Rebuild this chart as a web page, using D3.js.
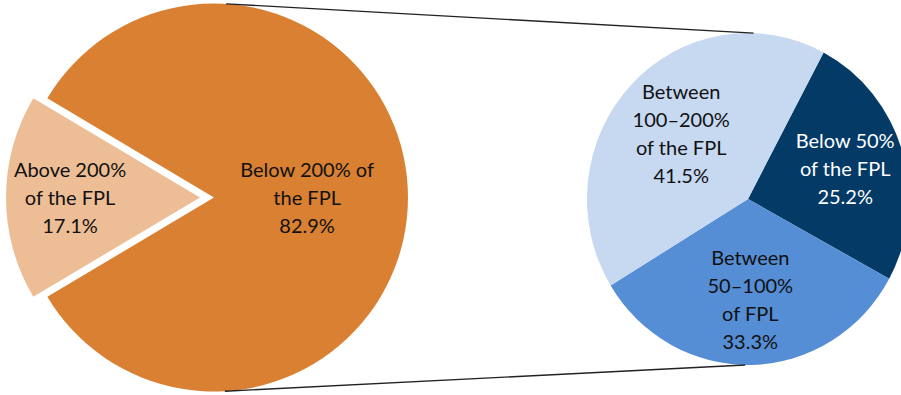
<!DOCTYPE html>
<html>
<head>
<meta charset="utf-8">
<script src="https://cdn.jsdelivr.net/npm/d3@7"></script>
<style>
  html, body { margin: 0; padding: 0; background: #fff; }
  svg { display: block; }
  text { font-family: Lato, "Open Sans", "DejaVu Sans", sans-serif; }
</style>
</head>
<body>
<svg id="chart" width="901" height="395"></svg>
<script>
// ---- data ----
const primaryCategories = ["Below 200% of the FPL", "Above 200% of the FPL"];
const primaryLabelLines = [["Below 200% of", "the FPL"], ["Above 200%", "of the FPL"]];
const primaryValues = [82.9, 17.1];

const secondaryCategories = ["Below 50% of the FPL", "Between 50–100% of FPL", "Between 100–200% of the FPL"];
const secondaryLabelLines = [["Below 50%", "of the FPL"], ["Between", "50–100%", "of FPL"], ["Between", "100–200%", "of the FPL"]];
const secondaryValues = [25.2, 33.3, 41.5];

// ---- styles / layout ----
const primaryColors = ["#D98032", "#EDBD95"];
const secondaryColors = ["#043A66", "#558ED5", "#C6D9F1"];
const secondaryTextColors = ["#ffffff", "#111111", "#111111"];
const primaryTextColors = ["#111111", "#111111"];

const svg = d3.select("#chart");
const fontSize = 20, lineH = 28;

// primary pie
const P = { cx: 214, cy: 197.5, r: 194, explode: 14 };
const primaryPie = d3.pie().sort(null).value(d => d)
  .startAngle(300.78 * Math.PI / 180)
  .endAngle(300.78 * Math.PI / 180 + 2 * Math.PI);
const pArcs = primaryPie(primaryValues);
const pArc = d3.arc().innerRadius(0).outerRadius(P.r);
const pExplode = [0, P.explode];
const pLabelFrac = [0.48, 0.67];

const gP = svg.append("g").attr("transform", `translate(${P.cx},${P.cy})`);
pArcs.forEach((a, i) => {
  const mid = (a.startAngle + a.endAngle) / 2;
  const ox = Math.sin(mid) * pExplode[i], oy = -Math.cos(mid) * pExplode[i];
  const g = gP.append("g").attr("transform", `translate(${ox},${oy})`);
  g.append("path").attr("d", pArc(a)).attr("fill", primaryColors[i]);
  const lr = P.r * pLabelFrac[i];
  const lx = Math.sin(mid) * lr, ly = -Math.cos(mid) * lr;
  const lines = primaryLabelLines[i].concat([d3.format(".1f")(primaryValues[i]) + "%"]);
  const t = g.append("text").attr("text-anchor", "middle").attr("font-size", fontSize)
    .attr("fill", primaryTextColors[i]);
  lines.forEach((l, k) => {
    t.append("tspan").attr("x", lx)
      .attr("y", ly + (k - (lines.length - 1) / 2) * lineH)
      .attr("dy", "0.35em").text(l);
  });
});

// secondary pie (slightly elliptical as in the reference)
const S = { cx: 748, cy: 199, rx: 161, ry: 166 };
const R = S.ry;
const secondaryPie = d3.pie().sort(null).value(d => d)
  .startAngle(28 * Math.PI / 180)
  .endAngle(28 * Math.PI / 180 + 2 * Math.PI);
const sArcs = secondaryPie(secondaryValues);
const sArc = d3.arc().innerRadius(0).outerRadius(R);
const sLabelFrac = [0.63, 0.61, 0.57];
const sx = S.rx / S.ry;

const gS = svg.append("g").attr("transform", `translate(${S.cx},${S.cy})`);
const gSS = gS.append("g").attr("transform", `scale(${sx},1)`);
sArcs.forEach((a, i) => {
  gSS.append("path").attr("d", sArc(a)).attr("fill", secondaryColors[i]);
});
sArcs.forEach((a, i) => {
  const mid = (a.startAngle + a.endAngle) / 2;
  const lr = R * sLabelFrac[i];
  const lx = Math.sin(mid) * lr * sx, ly = -Math.cos(mid) * lr;
  const lines = secondaryLabelLines[i].concat([d3.format(".1f")(secondaryValues[i]) + "%"]);
  const t = gS.append("text").attr("text-anchor", "middle").attr("font-size", fontSize)
    .attr("fill", secondaryTextColors[i]);
  lines.forEach((l, k) => {
    t.append("tspan").attr("x", lx)
      .attr("y", ly + (k - (lines.length - 1) / 2) * lineH)
      .attr("dy", "0.35em").text(l);
  });
});

// connector lines between pies
function ptP(deg) { const a = deg * Math.PI / 180; return [P.cx + Math.sin(a) * P.r, P.cy - Math.cos(a) * P.r]; }
function ptS(deg) { const a = deg * Math.PI / 180; return [S.cx + Math.sin(a) * S.rx, S.cy - Math.cos(a) * S.ry]; }
const connectors = [[ptP(3.6), ptS(2)], [ptP(176.8), ptS(181)]];
connectors.forEach(([a, b]) => {
  svg.append("line").attr("x1", a[0]).attr("y1", a[1]).attr("x2", b[0]).attr("y2", b[1])
    .attr("stroke", "#222").attr("stroke-width", 1.4);
});
</script>
</body>
</html>
